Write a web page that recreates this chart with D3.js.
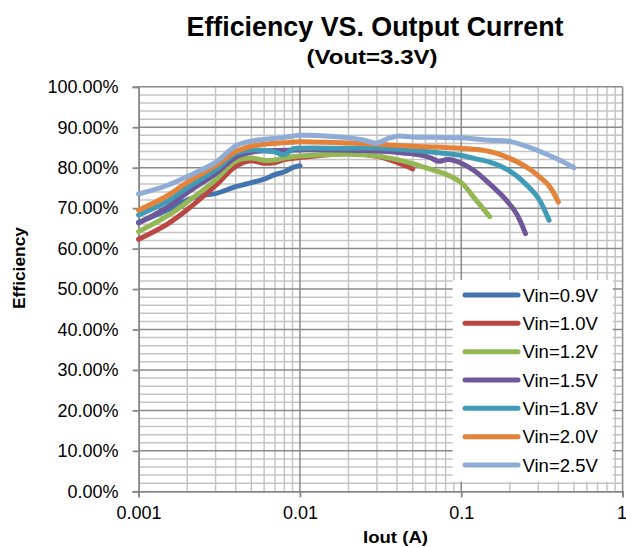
<!DOCTYPE html>
<html>
<head>
<meta charset="utf-8">
<script src="https://cdn.jsdelivr.net/npm/d3@7"></script>
<style>
  html, body { margin: 0; padding: 0; background: #fff; }
  svg { display: block; font-family: "Liberation Sans", Arial, sans-serif; }
</style>
</head>
<body>
<svg id="chart" width="626" height="547"></svg>
<script>
// ---- data ----
const seriesNames = ["Vin=0.9V", "Vin=1.0V", "Vin=1.2V", "Vin=1.5V", "Vin=1.8V", "Vin=2.0V", "Vin=2.5V"];
const seriesColors = ["#4474B0", "#BA4743", "#94B753", "#6F579A", "#3F9BB6", "#E4823A", "#8FACD6"];

const vin09 = [[0.001,66.5],[0.0015,69.5],[0.002,72],[0.0025,73.2],[0.003,73.6],[0.004,75.3],[0.005,76.3],[0.006,77.2],[0.007,78.3],[0.008,79],[0.009,80],[0.01,80.5]];
const vin10 = [[0.001,62.3],[0.0015,66],[0.002,69.6],[0.003,75.6],[0.004,80.3],[0.005,81.7],[0.006,81.1],[0.007,81.3],[0.008,82],[0.01,82.5],[0.015,83.2],[0.02,83.5],[0.03,82.8],[0.04,81.3],[0.05,79.7]];
const vin12 = [[0.001,64.2],[0.0015,68],[0.002,71.5],[0.003,77],[0.004,81.6],[0.005,82.4],[0.006,81.8],[0.007,81.9],[0.008,82.4],[0.01,82.9],[0.02,83.3],[0.03,82.9],[0.04,82],[0.05,81],[0.06,80],[0.08,78.4],[0.1,76.3],[0.12,72.6],[0.15,67.9]];
const vin15 = [[0.001,66.3],[0.0015,70.2],[0.002,73.8],[0.003,78.5],[0.004,82.6],[0.005,83.8],[0.006,84.2],[0.008,84.3],[0.01,84.4],[0.02,84.3],[0.03,84.1],[0.045,83.6],[0.055,83.2],[0.065,82.4],[0.072,81.6],[0.083,82],[0.1,81.1],[0.12,79.3],[0.15,76],[0.19,72],[0.22,68.6],[0.25,63.7]];
const vin18 = [[0.001,68.3],[0.0015,71.6],[0.002,75],[0.003,79.5],[0.004,83.5],[0.005,84.4],[0.006,84.2],[0.007,83.9],[0.008,83.2],[0.009,84.6],[0.01,84.8],[0.02,84.8],[0.03,84.9],[0.05,84.3],[0.08,83.5],[0.1,83],[0.12,82.3],[0.15,81.4],[0.18,80.2],[0.22,78],[0.25,76],[0.3,72.5],[0.35,67]];
const vin20 = [[0.001,69.5],[0.0015,73],[0.002,76.4],[0.003,80.5],[0.004,84],[0.005,85.3],[0.006,85.8],[0.008,86.2],[0.01,86.4],[0.02,86.1],[0.03,85.8],[0.05,85.3],[0.1,84.8],[0.15,84],[0.2,82.3],[0.25,80.3],[0.3,78],[0.35,75.5],[0.4,71.5]];
const vin25 = [[0.001,73.5],[0.0015,75.6],[0.002,77.8],[0.003,81.3],[0.004,85.4],[0.005,86.6],[0.006,87],[0.008,87.5],[0.01,88],[0.02,87.4],[0.025,86.8],[0.03,86.1],[0.035,87.2],[0.04,87.8],[0.05,87.6],[0.07,87.5],[0.1,87.4],[0.15,86.8],[0.2,86.5],[0.3,84.2],[0.4,82],[0.5,80]];
const seriesData = [vin09, vin10, vin12, vin15, vin18, vin20, vin25];

const xTickValues = [0.001, 0.01, 0.1, 1];
const xTickLabels = ["0.001", "0.01", "0.1", "1"];
const yTickValues = [0, 10, 20, 30, 40, 50, 60, 70, 80, 90, 100];

const titleText = "Efficiency VS. Output Current";
const subtitleText = "(Vout=3.3V)";
const xAxisTitle = "Iout (A)";
const yAxisTitle = "Efficiency";

// ---- layout ----
const svg = d3.select("#chart");
const pL = 138.6, pR = 622.6, pT = 86.8, pB = 491.3;

const x = d3.scaleLog().domain([0.001, 1]).range([pL, pR]);
const y = d3.scaleLinear().domain([0, 100]).range([pB, pT]);

// minor grid
const g = svg.append("g");
const minorX = [];
for (let e = -3; e < 0; e++) for (let k = 2; k <= 9; k++) minorX.push(k * Math.pow(10, e));
const minorY = [];
for (let v = 0; v < 100; v += 2) if (v % 10 !== 0) minorY.push(v);

g.selectAll(".mx").data(minorX).join("line")
  .attr("x1", d => x(d)).attr("x2", d => x(d)).attr("y1", pT).attr("y2", pB)
  .attr("stroke", "#c4c4c4").attr("stroke-width", 1.5);
g.selectAll(".my").data(minorY).join("line")
  .attr("x1", pL).attr("x2", pR).attr("y1", d => y(d)).attr("y2", d => y(d))
  .attr("stroke", "#c4c4c4").attr("stroke-width", 1.5);
// major grid
g.selectAll(".Mx").data(xTickValues.slice(1)).join("line")
  .attr("x1", d => x(d)).attr("x2", d => x(d)).attr("y1", pT).attr("y2", pB)
  .attr("stroke", "#8a8a8a").attr("stroke-width", 1.5);
g.selectAll(".My").data(yTickValues.slice(1)).join("line")
  .attr("x1", pL).attr("x2", pR).attr("y1", d => y(d)).attr("y2", d => y(d))
  .attr("stroke", "#8a8a8a").attr("stroke-width", 1.5);

// axes
const yAxis = d3.axisLeft(y).tickValues(yTickValues).tickSize(6).tickPadding(14)
  .tickFormat(d => d.toFixed(2) + "%");
const yg = svg.append("g").attr("transform", `translate(${pL},0)`).call(yAxis);
const xAxis = d3.axisBottom(x).tickValues(xTickValues).tickSize(6).tickPadding(9)
  .tickFormat((d, i) => xTickLabels[i]);
const xg = svg.append("g").attr("transform", `translate(0,${pB})`).call(xAxis);
[yg, xg].forEach(a => {
  a.select(".domain").attr("stroke", "#868686").attr("stroke-width", 1.8);
  a.selectAll(".tick line").attr("stroke", "#868686").attr("stroke-width", 1.8);
  a.selectAll(".tick text").attr("fill", "#000").style("font-size", "18px")
    .style("font-family", "'Liberation Sans', Arial, sans-serif");
});
xg.selectAll(".tick text").attr("dy", "0.71em");
// keep the last label inside the page
xg.selectAll(".tick text").filter(d => d === 1).attr("text-anchor", "end").attr("dx", "4");

// lines
const line = d3.line().x(d => x(d[0])).y(d => y(d[1])).curve(d3.curveCatmullRom.alpha(0.5));
svg.append("g").selectAll("path").data(seriesData).join("path")
  .attr("d", d => line(d)).attr("fill", "none")
  .attr("stroke", (d, i) => seriesColors[i]).attr("stroke-width", 5)
  .attr("stroke-linecap", "round").attr("stroke-linejoin", "round");

// legend
const lg = svg.append("g");
lg.append("rect").attr("x", 452.7).attr("y", 280).attr("width", 160).attr("height", 201.7).attr("fill", "#fff");
const legendY = d3.scalePoint().domain(seriesNames).range([295, 465]);
const items = lg.selectAll("g.item").data(seriesNames).join("g").attr("class", "item")
  .attr("transform", d => `translate(0,${legendY(d)})`);
items.append("line").attr("x1", 465).attr("x2", 518).attr("y1", 0).attr("y2", 0)
  .attr("stroke", (d, i) => seriesColors[i]).attr("stroke-width", 5).attr("stroke-linecap", "round");
items.append("text").attr("x", 522.5).attr("y", 6.6).text(d => d)
  .style("font-size", "18.5px").attr("fill", "#000");

// titles
svg.append("text").attr("x", 375).attr("y", 36).attr("text-anchor", "middle")
  .style("font-size", "27px").style("font-weight", "bold").attr("textLength", 377)
  .attr("lengthAdjust", "spacingAndGlyphs").text(titleText);
svg.append("text").attr("x", 372).attr("y", 64).attr("text-anchor", "middle")
  .style("font-size", "20px").style("font-weight", "bold").attr("textLength", 131)
  .attr("lengthAdjust", "spacingAndGlyphs").text(subtitleText);
svg.append("text").attr("x", 395.5).attr("y", 543).attr("text-anchor", "middle")
  .style("font-size", "16.5px").style("font-weight", "bold").attr("textLength", 65)
  .attr("lengthAdjust", "spacingAndGlyphs").text(xAxisTitle);
svg.append("text").attr("transform", "translate(25,268) rotate(-90)").attr("text-anchor", "middle")
  .style("font-size", "17px").style("font-weight", "bold").attr("textLength", 82)
  .attr("lengthAdjust", "spacingAndGlyphs").text(yAxisTitle);
</script>
</body>
</html>
